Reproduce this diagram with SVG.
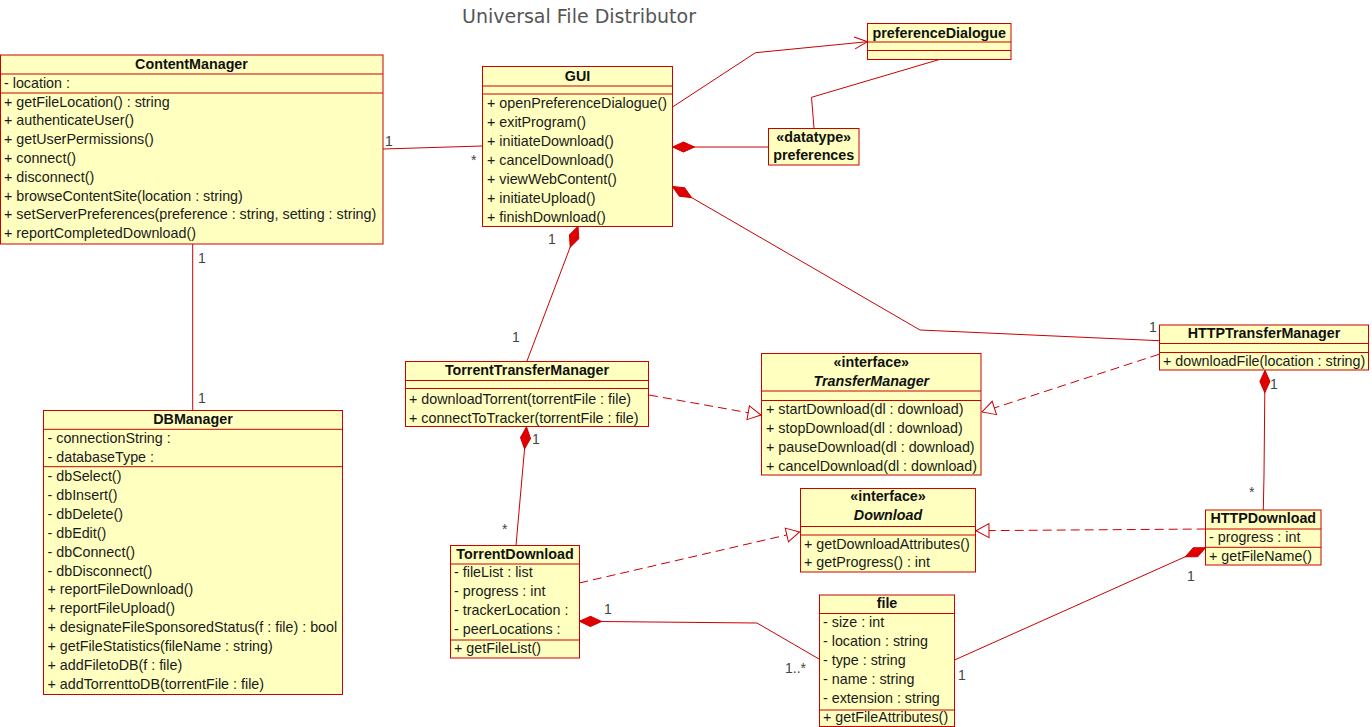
<svg xmlns="http://www.w3.org/2000/svg" width="1372" height="727" viewBox="0 0 1372 727">
<style>
.box{fill:#ffffc0;stroke:#cc0000;stroke-width:1}
.sep{stroke:#cc0000;stroke-width:1;fill:none}
.t{font-family:"Liberation Sans",Arial,sans-serif;font-size:14.3px;fill:#1a1a1a}
.h{font-family:"Liberation Sans",Arial,sans-serif;font-size:14.3px;font-weight:bold;fill:#111;text-anchor:middle}
.hi{font-style:italic}
.lbl{font-family:"Liberation Sans",Arial,sans-serif;font-size:14px;fill:#444}
.title{font-family:"DejaVu Sans","Liberation Sans",sans-serif;font-size:19px;fill:#555;text-anchor:middle}
.c{stroke:#cc0000;stroke-width:1;fill:none}
.d{stroke:#cc0000;stroke-width:1;fill:none;stroke-dasharray:9,5}
</style>
<defs>
<marker id="dia" markerUnits="userSpaceOnUse" markerWidth="30" markerHeight="14" viewBox="-1 -7 26 14" refX="0" refY="0" orient="auto">
<path d="M0,0 L11,-5 L22,0 L11,5 Z" fill="#e00000" stroke="#cc0000" stroke-width="1"/>
</marker>
<marker id="tri" markerUnits="userSpaceOnUse" markerWidth="16" markerHeight="16" viewBox="-14 -8 16 16" refX="0" refY="0" orient="auto">
<path d="M-13,-7 L0,0 L-13,7 Z" fill="#ffffff" stroke="#cc0000" stroke-width="1"/>
</marker>
<marker id="arr" markerUnits="userSpaceOnUse" markerWidth="16" markerHeight="16" viewBox="-14 -8 16 16" refX="0" refY="0" orient="auto">
<path d="M-13,-6 L0,0 L-13,6" fill="none" stroke="#cc0000" stroke-width="1"/>
</marker>
</defs>
<rect width="1372" height="727" fill="#ffffff"/>
<text class="title" x="579" y="23">Universal File Distributor</text>

<g id="connectors">
<path class="c" d="M383,149 L482,146"/>
<path class="c" d="M192.7,244 L192.7,410"/>
<path class="c" d="M673,106.7 L755.5,52.7 L867.5,41.7" marker-end="url(#arr)"/>
<path class="c" d="M940,59.3 L811.5,97.3 L814,128"/>
<path class="c" d="M672.5,147 L768,147" marker-start="url(#dia)"/>
<path class="c" d="M672.5,186.5 L920,330 L1159,340.7" marker-start="url(#dia)"/>
<path class="c" d="M578,226.5 L527,361" marker-start="url(#dia)"/>
<path class="d" d="M649,395 L761,415" marker-end="url(#tri)"/>
<path class="d" d="M1159,354.3 L982,412" marker-end="url(#tri)"/>
<path class="c" d="M526.5,427 L516,545.5" marker-start="url(#dia)"/>
<path class="c" d="M1265,370.5 L1264,475 L1263.3,510" marker-start="url(#dia)"/>
<path class="d" d="M579.3,583 L799.5,532" marker-end="url(#tri)"/>
<path class="d" d="M1205.7,529 L976,530.7" marker-end="url(#tri)"/>
<path class="c" d="M579.5,621.3 L757,623 L819,659" marker-start="url(#dia)"/>
<path class="c" d="M1205.5,547.7 L954.5,660" marker-start="url(#dia)"/>
<text class="lbl" x="385" y="146">1</text>
<text class="lbl" x="471" y="165">*</text>
<text class="lbl" x="198" y="263">1</text>
<text class="lbl" x="198" y="403">1</text>
<text class="lbl" x="548" y="244">1</text>
<text class="lbl" x="512" y="342">1</text>
<text class="lbl" x="1149" y="332">1</text>
<text class="lbl" x="532" y="444">1</text>
<text class="lbl" x="502" y="534">*</text>
<text class="lbl" x="1270" y="389">1</text>
<text class="lbl" x="1249" y="497">*</text>
<text class="lbl" x="604" y="614">1</text>
<text class="lbl" x="785" y="673">1..*</text>
<text class="lbl" x="1187" y="581">1</text>
<text class="lbl" x="958" y="680">1</text>
</g>

<g id="ContentManager">
<rect class="box" x="0.5" y="55" width="382.5" height="189"/>
<path class="sep" d="M0.5,74 H383 M0.5,93 H383"/>
<text class="h" x="191.5" y="69">ContentManager</text>
<text class="t" x="4" y="88">- location :</text>
<text class="t" x="4" y="106.5">+ getFileLocation() : string</text>
<text class="t" x="4" y="125.3">+ authenticateUser()</text>
<text class="t" x="4" y="144.1">+ getUserPermissions()</text>
<text class="t" x="4" y="162.9">+ connect()</text>
<text class="t" x="4" y="181.7">+ disconnect()</text>
<text class="t" x="4" y="200.5">+ browseContentSite(location : string)</text>
<text class="t" x="4" y="219.3">+ setServerPreferences(preference : string, setting : string)</text>
<text class="t" x="4" y="238.1">+ reportCompletedDownload()</text>
</g>

<g id="GUI">
<rect class="box" x="482.5" y="66.5" width="190" height="160"/>
<path class="sep" d="M482.5,86 H672.5 M482.5,94 H672.5"/>
<text class="h" x="577.5" y="80.5">GUI</text>
<text class="t" x="487" y="108.3">+ openPreferenceDialogue()</text>
<text class="t" x="487" y="127.2">+ exitProgram()</text>
<text class="t" x="487" y="146.1">+ initiateDownload()</text>
<text class="t" x="487" y="165">+ cancelDownload()</text>
<text class="t" x="487" y="183.9">+ viewWebContent()</text>
<text class="t" x="487" y="202.8">+ initiateUpload()</text>
<text class="t" x="487" y="221.7">+ finishDownload()</text>
</g>

<g id="preferenceDialogue">
<rect class="box" x="867.5" y="23.5" width="143.5" height="36"/>
<path class="sep" d="M867.5,42 H1011 M867.5,50.5 H1011"/>
<text class="h" x="939.3" y="37.5">preferenceDialogue</text>
</g>

<g id="preferences">
<rect class="box" x="768.5" y="128.5" width="90.5" height="36.5"/>
<text class="h" x="813.7" y="141.7">«datatype»</text>
<text class="h" x="813.7" y="160.3">preferences</text>
</g>

<g id="TorrentTransferManager">
<rect class="box" x="405.5" y="361.5" width="243" height="65"/>
<path class="sep" d="M405.5,380.5 H648.5 M405.5,388.5 H648.5"/>
<text class="h" x="527" y="375">TorrentTransferManager</text>
<text class="t" x="409" y="403.8">+ downloadTorrent(torrentFile : file)</text>
<text class="t" x="409" y="422.6">+ connectToTracker(torrentFile : file)</text>
</g>

<g id="TransferManager">
<rect class="box" x="761.5" y="353.5" width="219.5" height="121.5"/>
<path class="sep" d="M761.5,391 H981 M761.5,400.5 H981"/>
<text class="h" x="871.3" y="366.7">«interface»</text>
<text class="h hi" x="871.3" y="385.5">TransferManager</text>
<text class="t" x="766" y="414">+ startDownload(dl : download)</text>
<text class="t" x="766" y="433">+ stopDownload(dl : download)</text>
<text class="t" x="766" y="452">+ pauseDownload(dl : download)</text>
<text class="t" x="766" y="471">+ cancelDownload(dl : download)</text>
</g>

<g id="HTTPTransferManager">
<rect class="box" x="1159.5" y="325" width="209" height="45"/>
<path class="sep" d="M1159.5,343.5 H1368.5 M1159.5,352.5 H1368.5"/>
<text class="h" x="1264" y="338">HTTPTransferManager</text>
<text class="t" x="1163" y="365.5">+ downloadFile(location : string)</text>
</g>

<g id="Download">
<rect class="box" x="800.5" y="488.5" width="175" height="83.5"/>
<path class="sep" d="M800.5,526.5 H975.5 M800.5,535 H975.5"/>
<text class="h" x="888" y="501">«interface»</text>
<text class="h hi" x="888" y="520">Download</text>
<text class="t" x="804" y="548.8">+ getDownloadAttributes()</text>
<text class="t" x="804" y="567.3">+ getProgress() : int</text>
</g>

<g id="HTTPDownload">
<rect class="box" x="1205.5" y="510" width="115.5" height="55"/>
<path class="sep" d="M1205.5,529 H1321 M1205.5,547.3 H1321"/>
<text class="h" x="1263.3" y="523">HTTPDownload</text>
<text class="t" x="1209" y="542">- progress : int</text>
<text class="t" x="1209" y="560.5">+ getFileName()</text>
</g>

<g id="TorrentDownload">
<rect class="box" x="450.5" y="545.5" width="129" height="112.5"/>
<path class="sep" d="M450.5,564 H579.5 M450.5,640 H579.5"/>
<text class="h" x="515" y="558.5">TorrentDownload</text>
<text class="t" x="454" y="577.3">- fileList : list</text>
<text class="t" x="454" y="596.2">- progress : int</text>
<text class="t" x="454" y="615.1">- trackerLocation :</text>
<text class="t" x="454" y="634">- peerLocations :</text>
<text class="t" x="454" y="653">+ getFileList()</text>
</g>

<g id="file">
<rect class="box" x="819.5" y="595" width="135" height="131.5"/>
<path class="sep" d="M819.5,613.5 H954.5 M819.5,710 H954.5"/>
<text class="h" x="887" y="608">file</text>
<text class="t" x="823" y="627">- size : int</text>
<text class="t" x="823" y="645.9">- location : string</text>
<text class="t" x="823" y="664.8">- type : string</text>
<text class="t" x="823" y="683.7">- name : string</text>
<text class="t" x="823" y="702.6">- extension : string</text>
<text class="t" x="823" y="722">+ getFileAttributes()</text>
</g>

<g id="DBManager">
<rect class="box" x="43.5" y="410.5" width="299" height="284"/>
<path class="sep" d="M43.5,429.3 H342.5 M43.5,466.7 H342.5"/>
<text class="h" x="193" y="423.8">DBManager</text>
<text class="t" x="47.5" y="443.3">- connectionString :</text>
<text class="t" x="47.5" y="462.2">- databaseType :</text>
<text class="t" x="47.5" y="481">- dbSelect()</text>
<text class="t" x="47.5" y="499.9">- dbInsert()</text>
<text class="t" x="47.5" y="518.8">- dbDelete()</text>
<text class="t" x="47.5" y="537.7">- dbEdit()</text>
<text class="t" x="47.5" y="556.6">- dbConnect()</text>
<text class="t" x="47.5" y="575.5">- dbDisconnect()</text>
<text class="t" x="47.5" y="594.4">+ reportFileDownload()</text>
<text class="t" x="47.5" y="613.3">+ reportFileUpload()</text>
<text class="t" x="47.5" y="632.2">+ designateFileSponsoredStatus(f : file) : bool</text>
<text class="t" x="47.5" y="651.1">+ getFileStatistics(fileName : string)</text>
<text class="t" x="47.5" y="670">+ addFiletoDB(f : file)</text>
<text class="t" x="47.5" y="689">+ addTorrenttoDB(torrentFile : file)</text>
</g>
</svg>
